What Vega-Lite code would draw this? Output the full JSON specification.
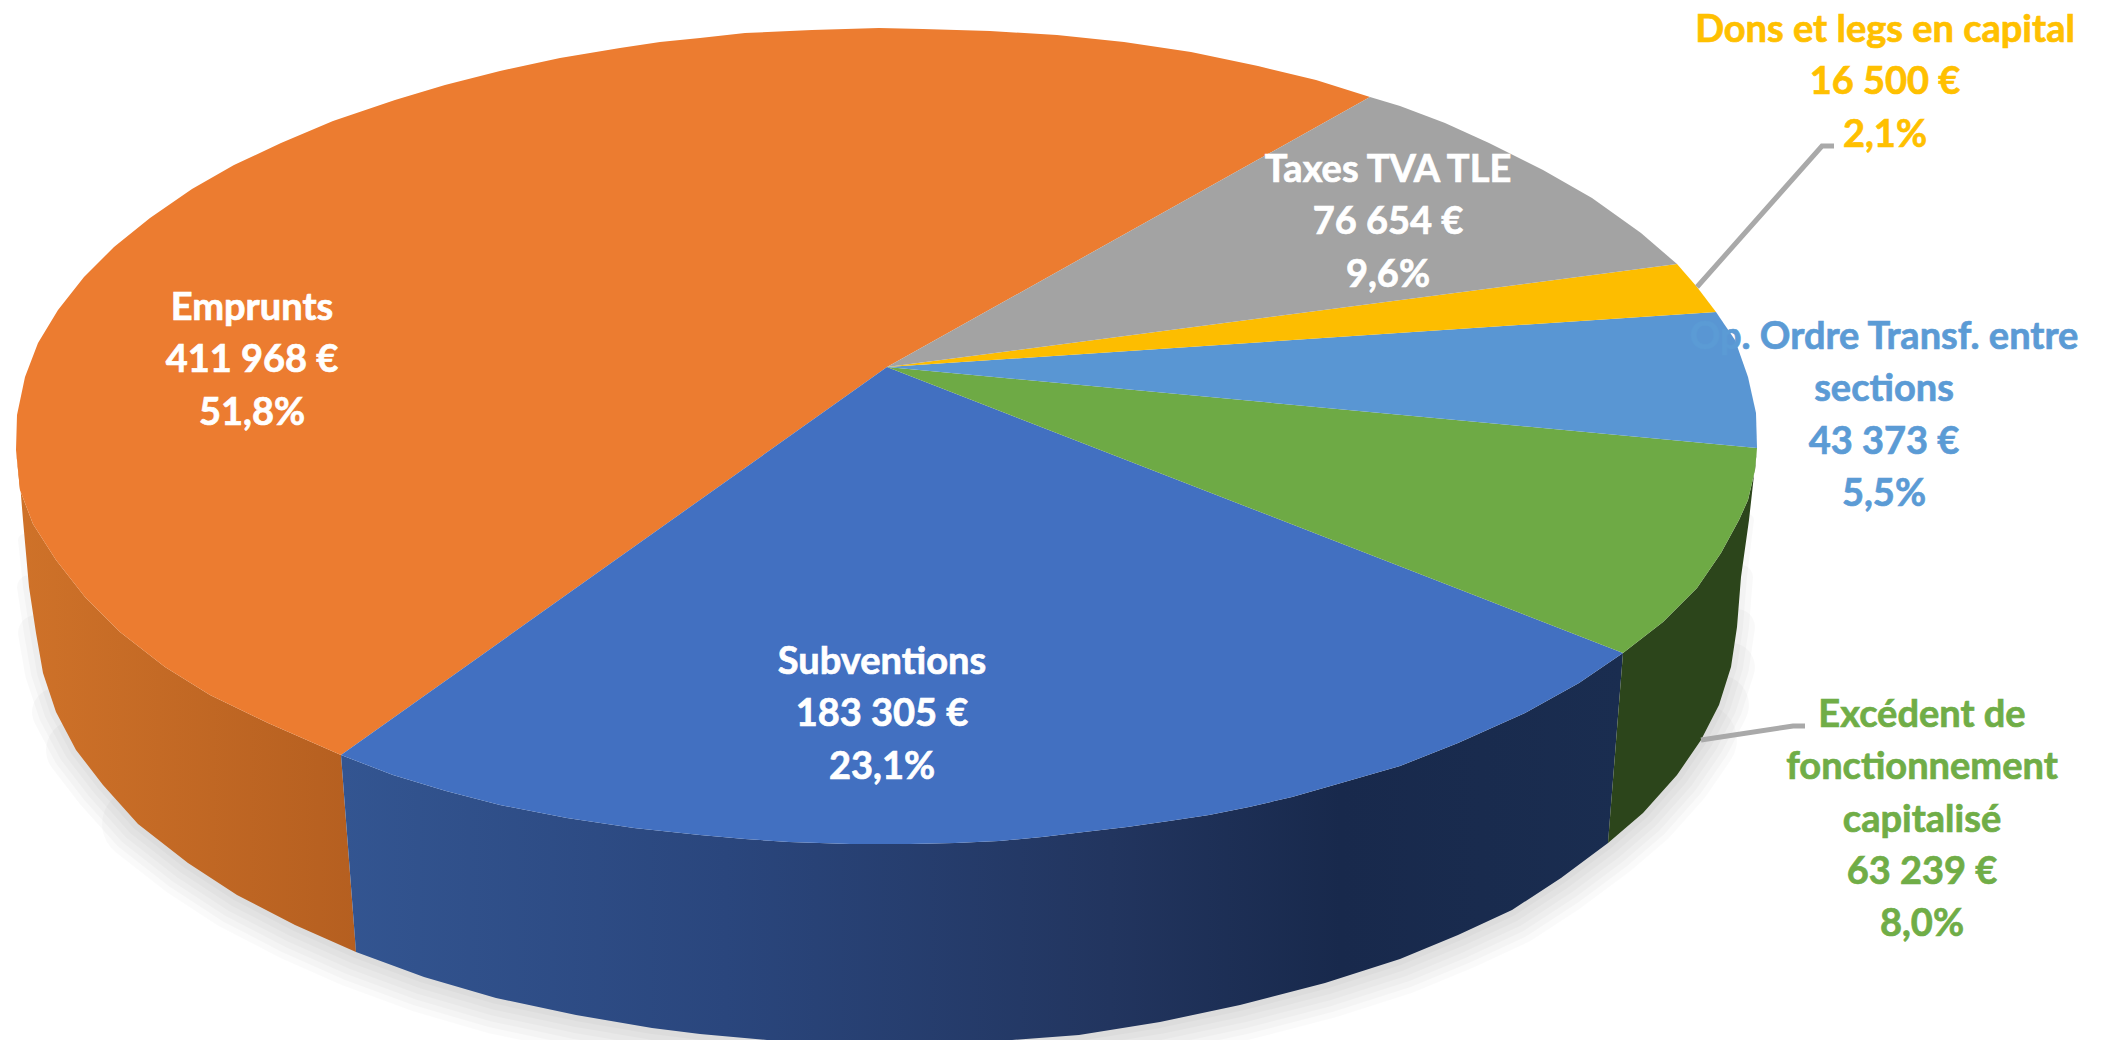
{"$schema":"https://vega.github.io/schema/vega-lite/v6.json","width":2101,"height":1040,"padding":0,"autosize":{"type":"none"},"background":"white","config":{"view":{"stroke":null}},
"datasets":{
"outline":[
{"slice":"Emprunts","i":0,"x":887,"y":367},{"slice":"Emprunts","i":1,"x":1370,"y":97},{"slice":"Emprunts","i":2,"x":1316,"y":80},{"slice":"Emprunts","i":3,"x":1258,"y":66},{"slice":"Emprunts","i":4,"x":1191,"y":52},{"slice":"Emprunts","i":5,"x":1124,"y":42},{"slice":"Emprunts","i":6,"x":1057,"y":35},{"slice":"Emprunts","i":7,"x":990,"y":31},{"slice":"Emprunts","i":8,"x":923,"y":29},{"slice":"Emprunts","i":9,"x":879,"y":28},{"slice":"Emprunts","i":10,"x":812,"y":30},{"slice":"Emprunts","i":11,"x":745,"y":33},{"slice":"Emprunts","i":12,"x":700,"y":38},{"slice":"Emprunts","i":12.5,"x":660,"y":42},{"slice":"Emprunts","i":13,"x":620,"y":48},{"slice":"Emprunts","i":13.5,"x":560,"y":58},{"slice":"Emprunts","i":14,"x":500,"y":71},{"slice":"Emprunts","i":14.5,"x":445,"y":85},{"slice":"Emprunts","i":15,"x":395,"y":100},{"slice":"Emprunts","i":16,"x":333,"y":121},{"slice":"Emprunts","i":17,"x":281,"y":143},{"slice":"Emprunts","i":18,"x":234,"y":165},{"slice":"Emprunts","i":19,"x":192,"y":189},{"slice":"Emprunts","i":20,"x":150,"y":218},{"slice":"Emprunts","i":21,"x":114,"y":247},{"slice":"Emprunts","i":22,"x":84,"y":277},{"slice":"Emprunts","i":23,"x":58,"y":310},{"slice":"Emprunts","i":24,"x":38,"y":343},{"slice":"Emprunts","i":25,"x":25,"y":377},{"slice":"Emprunts","i":26,"x":17,"y":415},{"slice":"Emprunts","i":27,"x":16,"y":450},{"slice":"Emprunts","i":28,"x":20,"y":490},{"slice":"Emprunts","i":29,"x":33,"y":524},{"slice":"Emprunts","i":30,"x":56,"y":560},{"slice":"Emprunts","i":31,"x":85,"y":597},{"slice":"Emprunts","i":32,"x":120,"y":632},{"slice":"Emprunts","i":33,"x":165,"y":667},{"slice":"Emprunts","i":34,"x":210,"y":695},{"slice":"Emprunts","i":35,"x":268,"y":723},{"slice":"Emprunts","i":36,"x":341,"y":755},
{"slice":"Subventions","i":0,"x":887,"y":367},{"slice":"Subventions","i":1,"x":341,"y":755},{"slice":"Subventions","i":2,"x":393,"y":775},{"slice":"Subventions","i":3,"x":446,"y":791},{"slice":"Subventions","i":4,"x":500,"y":805},{"slice":"Subventions","i":5,"x":567,"y":818},{"slice":"Subventions","i":6,"x":634,"y":828},{"slice":"Subventions","i":7,"x":700,"y":835},{"slice":"Subventions","i":7.5,"x":745,"y":839},{"slice":"Subventions","i":8,"x":789,"y":842},{"slice":"Subventions","i":8.5,"x":850,"y":844},{"slice":"Subventions","i":9,"x":910,"y":844},{"slice":"Subventions","i":9.5,"x":955,"y":843},{"slice":"Subventions","i":10,"x":999,"y":841},{"slice":"Subventions","i":10.5,"x":1042,"y":837},{"slice":"Subventions","i":11,"x":1084,"y":832},{"slice":"Subventions","i":11.5,"x":1127,"y":827},{"slice":"Subventions","i":12,"x":1169,"y":821},{"slice":"Subventions","i":12.5,"x":1209,"y":815},{"slice":"Subventions","i":13,"x":1249,"y":807},{"slice":"Subventions","i":13.5,"x":1292,"y":797},{"slice":"Subventions","i":14,"x":1334,"y":785},{"slice":"Subventions","i":15,"x":1400,"y":766},{"slice":"Subventions","i":16,"x":1458,"y":743},{"slice":"Subventions","i":17,"x":1525,"y":713},{"slice":"Subventions","i":18,"x":1579,"y":683},{"slice":"Subventions","i":19,"x":1623,"y":653},
{"slice":"Excédent","i":0,"x":887,"y":367},{"slice":"Excédent","i":1,"x":1623,"y":653},{"slice":"Excédent","i":2,"x":1663,"y":622},{"slice":"Excédent","i":3,"x":1697,"y":588},{"slice":"Excédent","i":4,"x":1721,"y":553},{"slice":"Excédent","i":5,"x":1739,"y":520},{"slice":"Excédent","i":6,"x":1748,"y":500},{"slice":"Excédent","i":7,"x":1755,"y":470},{"slice":"Excédent","i":8,"x":1757,"y":448},
{"slice":"Opération","i":0,"x":887,"y":367},{"slice":"Opération","i":1,"x":1757,"y":448},{"slice":"Opération","i":2,"x":1756,"y":413},{"slice":"Opération","i":3,"x":1748,"y":377},{"slice":"Opération","i":4,"x":1735,"y":340},{"slice":"Opération","i":5,"x":1716,"y":312},
{"slice":"Dons","i":0,"x":887,"y":367},{"slice":"Dons","i":1,"x":1716,"y":312},{"slice":"Dons","i":2,"x":1697,"y":287},{"slice":"Dons","i":3,"x":1677,"y":264},
{"slice":"Taxes","i":0,"x":887,"y":367},{"slice":"Taxes","i":1,"x":1677,"y":264},{"slice":"Taxes","i":2,"x":1641,"y":233},{"slice":"Taxes","i":3,"x":1592,"y":198},{"slice":"Taxes","i":4,"x":1543,"y":170},{"slice":"Taxes","i":5,"x":1489,"y":143},{"slice":"Taxes","i":6,"x":1445,"y":123},{"slice":"Taxes","i":7,"x":1400,"y":106},{"slice":"Taxes","i":8,"x":1370,"y":97}
],
"sideOrange":[{"i":0,"x":16,"y":450},{"i":1,"x":20,"y":483},{"i":2,"x":23,"y":520},{"i":3,"x":29,"y":587},{"i":4,"x":36,"y":633},{"i":5,"x":43,"y":673},{"i":6,"x":56,"y":712},{"i":7,"x":76,"y":750},{"i":8,"x":103,"y":785},{"i":9,"x":138,"y":824},{"i":10,"x":188,"y":863},{"i":11,"x":237,"y":895},{"i":12,"x":295,"y":925},{"i":13,"x":356,"y":952},{"i":14,"x":341,"y":755},{"i":15,"x":268,"y":723},{"i":16,"x":210,"y":695},{"i":17,"x":165,"y":667},{"i":18,"x":120,"y":632},{"i":19,"x":85,"y":597},{"i":20,"x":56,"y":560},{"i":21,"x":33,"y":524},{"i":22,"x":20,"y":490}],
"sideBlue":[{"i":0,"x":341,"y":755},{"i":1,"x":393,"y":775},{"i":2,"x":446,"y":791},{"i":3,"x":500,"y":805},{"i":4,"x":567,"y":818},{"i":5,"x":634,"y":828},{"i":6,"x":700,"y":835},{"i":6.5,"x":745,"y":839},{"i":7,"x":789,"y":842},{"i":7.5,"x":850,"y":844},{"i":8,"x":910,"y":844},{"i":8.5,"x":955,"y":843},{"i":9,"x":999,"y":841},{"i":9.5,"x":1042,"y":837},{"i":10,"x":1084,"y":832},{"i":10.5,"x":1127,"y":827},{"i":11,"x":1169,"y":821},{"i":11.5,"x":1209,"y":815},{"i":12,"x":1249,"y":807},{"i":12.5,"x":1292,"y":797},{"i":13,"x":1334,"y":785},{"i":14,"x":1400,"y":766},{"i":15,"x":1458,"y":743},{"i":16,"x":1525,"y":713},{"i":17,"x":1579,"y":683},{"i":18,"x":1623,"y":653},{"i":19,"x":1608,"y":843},{"i":20,"x":1561,"y":878},{"i":21,"x":1512,"y":910},{"i":22,"x":1458,"y":935},{"i":23,"x":1400,"y":959},{"i":24,"x":1325,"y":983},{"i":25,"x":1240,"y":1005},{"i":26,"x":1160,"y":1022},{"i":27,"x":1079,"y":1035},{"i":28,"x":1012,"y":1040},{"i":29,"x":767,"y":1040},{"i":30,"x":700,"y":1034},{"i":31,"x":652,"y":1028},{"i":32,"x":576,"y":1015},{"i":33,"x":496,"y":998},{"i":34,"x":424,"y":977},{"i":35,"x":356,"y":952}],
"sideGreen":[{"i":0,"x":1623,"y":653},{"i":1,"x":1663,"y":622},{"i":2,"x":1697,"y":588},{"i":3,"x":1721,"y":553},{"i":4,"x":1739,"y":520},{"i":5,"x":1748,"y":500},{"i":6,"x":1755,"y":470},{"i":7,"x":1757,"y":448},{"i":8,"x":1749,"y":520},{"i":9,"x":1741,"y":577},{"i":10,"x":1737,"y":627},{"i":11,"x":1731,"y":667},{"i":12,"x":1719,"y":705},{"i":13,"x":1701,"y":740},{"i":14,"x":1677,"y":775},{"i":15,"x":1643,"y":813},{"i":16,"x":1608,"y":843}],
"shadow":[{"i":0,"x":24,"y":540},{"i":1,"x":29,"y":587},{"i":2,"x":36,"y":633},{"i":3,"x":43,"y":673},{"i":4,"x":56,"y":712},{"i":5,"x":76,"y":750},{"i":6,"x":103,"y":785},{"i":7,"x":138,"y":824},{"i":8,"x":188,"y":863},{"i":9,"x":237,"y":895},{"i":10,"x":295,"y":925},{"i":11,"x":356,"y":952},{"i":12,"x":424,"y":977},{"i":13,"x":496,"y":998},{"i":14,"x":576,"y":1015},{"i":15,"x":652,"y":1028},{"i":16,"x":700,"y":1034},{"i":17,"x":767,"y":1040},{"i":18,"x":1012,"y":1040},{"i":19,"x":1079,"y":1035},{"i":20,"x":1160,"y":1022},{"i":21,"x":1240,"y":1005},{"i":22,"x":1325,"y":983},{"i":23,"x":1400,"y":959},{"i":24,"x":1458,"y":935},{"i":25,"x":1512,"y":910},{"i":26,"x":1561,"y":878},{"i":27,"x":1608,"y":843},{"i":28,"x":1643,"y":813},{"i":29,"x":1677,"y":775},{"i":30,"x":1701,"y":740},{"i":31,"x":1719,"y":705},{"i":32,"x":1731,"y":667},{"i":33,"x":1737,"y":627},{"i":34,"x":1741,"y":577},{"i":35,"x":1748,"y":520}],
"leaders":[{"slice":"Dons","i":0,"x":1697,"y":287},{"slice":"Dons","i":1,"x":1822,"y":146},{"slice":"Dons","i":2,"x":1834,"y":146},{"slice":"Excédent","i":0,"x":1701,"y":740},{"slice":"Excédent","i":1,"x":1793,"y":726},{"slice":"Excédent","i":2,"x":1805,"y":726}],
"labels":[
{"slice":"Emprunts","amount":411968,"share":51.8,"lines":["Emprunts","411 968 €","51,8%"],"x":252,"y":320},
{"slice":"Subventions","amount":183305,"share":23.1,"lines":["Subventions","183 305 €","23,1%"],"x":882,"y":674},
{"slice":"Taxes","amount":76654,"share":9.6,"lines":["Taxes TVA TLE","76 654 €","9,6%"],"x":1388,"y":182},
{"slice":"Dons","amount":16500,"share":2.1,"lines":["Dons et legs en capital","16 500 €","2,1%"],"x":1885,"y":42},
{"slice":"Opération","amount":43373,"share":5.5,"lines":["Op. Ordre Transf. entre","sections","43 373 €","5,5%"],"x":1884,"y":349},
{"slice":"Excédent","amount":63239,"share":8.0,"lines":["Excédent de","fonctionnement","capitalisé","63 239 €","8,0%"],"x":1922,"y":727}
]},
"encoding":{
"x":{"field":"x","type":"quantitative","axis":null,"scale":{"domain":[0,2101],"nice":false,"zero":false}},
"y":{"field":"y","type":"quantitative","axis":null,"scale":{"domain":[1040,0],"nice":false,"zero":false}},
"order":{"field":"i","type":"quantitative"}
},
"layer":[
{"data":{"name":"shadow"},"transform":[{"filter":"datum.i>=7 && datum.i<=30"}],"mark":{"type":"line","stroke":"#000","strokeWidth":72,"opacity":0.02,"strokeJoin":"round","strokeCap":"round"}},
{"data":{"name":"shadow"},"transform":[{"filter":"datum.i>=5 && datum.i<=31"}],"mark":{"type":"line","stroke":"#000","strokeWidth":60,"opacity":0.022,"strokeJoin":"round","strokeCap":"round"}},
{"data":{"name":"shadow"},"transform":[{"filter":"datum.i>=4 && datum.i<=32"}],"mark":{"type":"line","stroke":"#000","strokeWidth":48,"opacity":0.025,"strokeJoin":"round","strokeCap":"round"}},
{"data":{"name":"shadow"},"transform":[{"filter":"datum.i>=2 && datum.i<=33"}],"mark":{"type":"line","stroke":"#000","strokeWidth":36,"opacity":0.025,"strokeJoin":"round","strokeCap":"round"}},
{"data":{"name":"shadow"},"transform":[{"filter":"datum.i>=1 && datum.i<=34"}],"mark":{"type":"line","stroke":"#000","strokeWidth":24,"opacity":0.025,"strokeJoin":"round","strokeCap":"round"}},
{"data":{"name":"shadow"},"mark":{"type":"line","stroke":"#000","strokeWidth":12,"opacity":0.025,"strokeJoin":"round","strokeCap":"round"}},
{"data":{"name":"sideOrange"},"mark":{"type":"line","strokeWidth":0,"fill":{"gradient":"linear","x1":0,"y1":0,"x2":1,"y2":0,"stops":[{"offset":0,"color":"#CF7229"},{"offset":1,"color":"#B55F20"}]}}},
{"data":{"name":"sideBlue"},"mark":{"type":"line","strokeWidth":0,"fill":{"gradient":"linear","x1":0,"y1":0,"x2":1,"y2":0,"stops":[{"offset":0,"color":"#335591"},{"offset":0.3,"color":"#2A467D"},{"offset":0.6,"color":"#22355F"},{"offset":0.78,"color":"#18294C"},{"offset":1,"color":"#1A2D50"}]}}},
{"data":{"name":"sideGreen"},"mark":{"type":"line","strokeWidth":0,"fill":"#2C451B"}},
{"data":{"name":"outline"},"mark":{"type":"line","strokeWidth":0},"encoding":{"fill":{"field":"slice","type":"nominal","legend":null,"scale":{"domain":["Emprunts","Subventions","Excédent","Opération","Dons","Taxes"],"range":["#EC7C30","#4270C1","#6EAA45","#5996D3","#FDBD00","#A3A3A3"]}}}},
{"data":{"name":"leaders"},"mark":{"type":"line","stroke":"#A9A9A9","strokeWidth":5,"strokeJoin":"miter"},"encoding":{"detail":{"field":"slice"}}},
{"data":{"name":"labels"},"mark":{"type":"text","font":"Lato","fontWeight":"bold","fontSize":38,"lineHeight":52.3,"align":"center","baseline":"alphabetic","strokeWidth":0.7},"encoding":{"order":null,"text":{"field":"lines","type":"nominal"},"fill":{"field":"slice","type":"nominal","legend":null,"scale":{"domain":["Emprunts","Subventions","Excédent","Opération","Dons","Taxes"],"range":["#FFFFFF","#FFFFFF","#70AD47","#5B9BD5","#FFC000","#FFFFFF"]}},"stroke":{"field":"slice","type":"nominal","legend":null,"scale":{"domain":["Emprunts","Subventions","Excédent","Opération","Dons","Taxes"],"range":["#FFFFFF","#FFFFFF","#70AD47","#5B9BD5","#FFC000","#FFFFFF"]}}}}
],
"resolve":{"scale":{"fill":"independent","stroke":"independent"}}
}
